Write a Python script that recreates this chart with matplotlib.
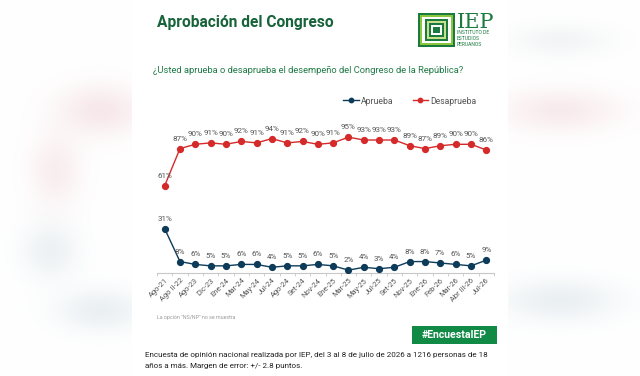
import numpy as np
import matplotlib
matplotlib.use("Agg")
import matplotlib.pyplot as plt
from matplotlib.patches import Rectangle

categories = ["Ago-21", "Ago II-22", "Ago-23", "Dic-23", "Ene-24", "Mar-24", "May-24",
              "Jul-24", "Ago-24", "Set-24", "Nov-24", "Ene-25", "Mar-25", "May-25",
              "Jul-25", "Set-25", "Nov-25", "Ene-26", "Feb-26", "Mar-26", "Abr III-26", "Jul-26"]
aprueba = [31, 8, 6, 5, 5, 6, 6, 4, 5, 5, 6, 5, 2, 4, 3, 4, 8, 8, 7, 6, 5, 9]
desaprueba = [61, 87, 90, 91, 90, 92, 91, 94, 91, 92, 90, 91, 95, 93, 93, 93, 89, 87, 89, 90, 90, 86]

plt.rcParams['font.family'] = ['Roboto', 'DejaVu Sans']

W, H = 640, 376
fig = plt.figure(figsize=(W / 100, H / 100), dpi=100)

def fx(px):
    return px / W

def fy(py):
    return 1 - py / H

# blurred decorative background
bg = fig.add_axes([0, 0, 1, 1])
yy, xx = np.mgrid[0:H, 0:W]
img = np.ones((H, W, 3))
blobs = [
    (100, 110, 30, 18, (0.93, 0.80, 0.82), 0.45),
    (55, 170, 18, 25, (0.93, 0.80, 0.82), 0.35),
    (50, 250, 20, 20, (0.80, 0.85, 0.88), 0.35),
    (100, 310, 30, 15, (0.80, 0.85, 0.88), 0.4),
    (560, 40, 35, 12, (0.85, 0.87, 0.88), 0.3),
    (560, 110, 40, 15, (0.93, 0.80, 0.82), 0.4),
    (560, 300, 40, 15, (0.80, 0.85, 0.88), 0.4),
]
for cx, cy, sx, sy, col, a in blobs:
    g = a * np.exp(-(((xx - cx) / sx) ** 2 + ((yy - cy) / sy) ** 2) / 2)
    for k in range(3):
        img[:, :, k] = img[:, :, k] * (1 - g) + col[k] * g
bg.imshow(img, extent=[0, W, H, 0], aspect='auto')
bg.set_xlim(0, W)
bg.set_ylim(H, 0)
bg.axis('off')
bg.add_patch(Rectangle((132, 0), 376, H, facecolor='white', edgecolor='none'))

# title and subtitle
fig.text(fx(157), fy(23), "Aprobación del Congreso", fontsize=11.2, fontweight='bold',
         color='#17633a', va='center', ha='left')
fig.text(fx(153), fy(70), "¿Usted aprueba o desaprueba el desempeño del Congreso de la República?",
         fontsize=6.75, color='#1f7a45', va='center', ha='left')

# logo
greens = ['#1b7a3e', '#8cc63f', '#ffffff', '#1b7a3e', '#c9df8a', '#1b7a3e', '#ffffff', '#1b7a3e']
lx0, ly0, lx1, ly1 = 418, 13, 455, 47
for i, c in enumerate(greens):
    d = i * 2.2
    bg.add_patch(Rectangle((lx0 + d, ly0 + d * 0.9), (lx1 - lx0) - 2 * d, (ly1 - ly0) - 1.8 * d,
                           facecolor=c, edgecolor='none'))
fig.text(fx(457), fy(22), "IEP", fontsize=15, family='DejaVu Serif', color='#1b7a3e',
         va='center', ha='left')
for j, t in enumerate(["INSTITUTO DE", "ESTUDIOS", "PERUANOS"]):
    fig.text(fx(457), fy(33 + j * 5.5), t, fontsize=3.6, color='#1b7a3e', va='center', ha='left')

# chart axes
ax = fig.add_axes([fx(157), fy(273), fx(494) - fx(157), (273 - 130) / H])
x = np.arange(len(categories))
red = '#d42a2a'
blue = '#0d3b5a'
ax.plot(x, aprueba, color=blue, lw=1.0, marker='o', ms=4.2, label='Aprueba', zorder=3)
ax.plot(x, desaprueba, color=red, lw=1.0, marker='o', ms=4.2, label='Desaprueba', zorder=3)
for xi, v in zip(x, aprueba):
    ax.annotate(f"{v}%", (xi, v), xytext=(0, 5), textcoords='offset points', ha='center',
                va='bottom', fontsize=5.8, color='#555555', clip_on=False)
for xi, v in zip(x, desaprueba):
    ax.annotate(f"{v}%", (xi, v), xytext=(0, 5), textcoords='offset points', ha='center',
                va='bottom', fontsize=5.8, color='#555555', clip_on=False)

ax.set_xlim(-0.455, len(categories) - 1 + 0.455)
ax.set_ylim(0, 100)
for s in ['top', 'right', 'left']:
    ax.spines[s].set_visible(False)
ax.spines['bottom'].set_color('#c8c8c8')
ax.spines['bottom'].set_linewidth(0.8)
ax.set_yticks([])
ax.set_xticks(x)
ax.set_xticklabels(categories, rotation=45, ha='right', rotation_mode='anchor',
                   fontsize=5.4, color='#555555')
ax.tick_params(axis='x', length=0, pad=3)
ax.set_xticks(np.arange(-0.5, len(categories), 1.0), minor=True)
ax.tick_params(axis='x', which='minor', length=2.5, color='#c8c8c8', width=0.6)
ax.patch.set_alpha(0)

leg = ax.legend(loc='center', bbox_to_anchor=((410 - 157) / (494 - 157), (273 - 101) / (273 - 130)),
                ncol=2, frameon=False, fontsize=6.2, handlelength=1.8, columnspacing=2.2,
                handletextpad=0.3, markerscale=0.75)
for t in leg.get_texts():
    t.set_color('#555555')

# footnote
fig.text(fx(157), fy(318), 'La opción "NS/NP" no se muestra', fontsize=3.8, color='#999999',
         va='center', ha='left')

# green badge
bg.add_patch(Rectangle((412, 326), 85, 18, facecolor='#108a45', edgecolor='none'))
fig.text(fx(454.5), fy(335), "#EncuestaIEP", fontsize=7.6, fontweight='bold', color='white',
         va='center', ha='center')

# bottom text
fig.text(fx(145), fy(355), "Encuesta de opinión nacional realizada por IEP, del 3 al 8 de julio de 2026 a 1216 personas de 18",
         fontsize=5.75, color='#222222', va='center', ha='left')
fig.text(fx(145), fy(366), "años a más. Margen de error: +/- 2.8 puntos.",
         fontsize=5.75, color='#222222', va='center', ha='left')

fig.savefig("out.png", dpi=100)
